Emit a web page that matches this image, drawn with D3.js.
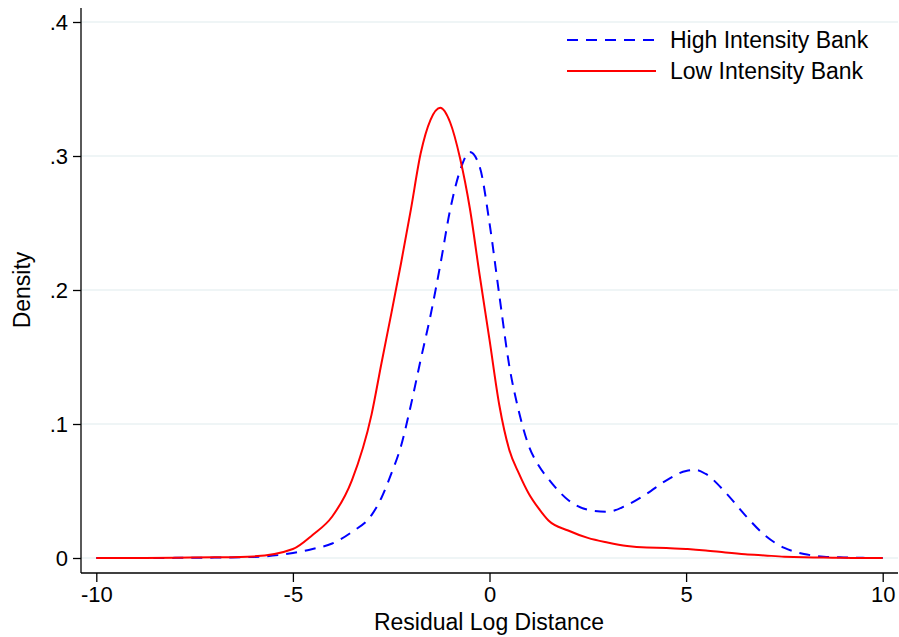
<!DOCTYPE html>
<html>
<head>
<meta charset="utf-8">
<script src="https://cdn.jsdelivr.net/npm/d3@7"></script>
<style>
  body { margin: 0; background: #fff; }
  svg { display: block; font-family: "Liberation Sans", Arial, sans-serif; }
</style>
</head>
<body>
<div id="chart"></div>
<script>
// Data (kernel density estimates)
const xGrid = [-10, -9, -8, -7, -6, -5, -4.5, -4, -3.5, -3, -2.75, -2.5, -2.25, -2, -1.75, -1.5,
  -1.25, -1, -0.75, -0.5, -0.25, 0, 0.25, 0.5, 0.75, 1, 1.25, 1.5, 2, 2.5, 3, 3.5, 4, 4.5, 5,
  5.25, 5.5, 6, 6.5, 7, 7.5, 8, 8.5, 9, 9.5, 10];
const highIntensity = [0, 0, 0.0001, 0.0003, 0.0008, 0.0037, 0.0067, 0.0108, 0.0194, 0.032, 0.0448,
  0.0627, 0.0836, 0.114, 0.148, 0.181, 0.219, 0.26, 0.289, 0.303, 0.292, 0.25, 0.196, 0.144,
  0.109, 0.0836, 0.069, 0.059, 0.0433, 0.036, 0.0345, 0.0396, 0.048, 0.058, 0.065, 0.0657, 0.0627,
  0.049, 0.032, 0.017, 0.0075, 0.003, 0.001, 0.0004, 0.0001, 0];
const lowIntensity = [0, 0, 0.0002, 0.0005, 0.0012, 0.0067, 0.0172, 0.031, 0.058, 0.107, 0.145,
  0.182, 0.22, 0.26, 0.302, 0.327, 0.336, 0.325, 0.2985, 0.261, 0.211, 0.163, 0.114, 0.081,
  0.063, 0.048, 0.037, 0.028, 0.0205, 0.015, 0.0116, 0.009, 0.0078, 0.0075, 0.0067, 0.0062, 0.0056,
  0.0041, 0.0028, 0.0019, 0.001, 0.0005, 0.0003, 0.0001, 0, 0];
const xTicks = [-10, -5, 0, 5, 10];
const yTicks = [0, 0.1, 0.2, 0.3, 0.4];
const seriesNames = ["High Intensity Bank", "Low Intensity Bank"];

const width = 899;
const height = 637;
const plot = { left: 81, right: 898, top: 8, bottom: 573 };

const svg = d3.select("#chart")
  .append("svg")
  .attr("width", width)
  .attr("height", height);

const xScale = d3.scaleLinear().domain([-10, 10]).range([96.3, 882.7]);
const yScale = d3.scaleLinear().domain([0, 0.4]).range([558, 22]);

// gridlines
svg.append("g")
  .selectAll("line")
  .data(yTicks)
  .join("line")
  .attr("x1", plot.left)
  .attr("x2", plot.right)
  .attr("y1", (d) => yScale(d))
  .attr("y2", (d) => yScale(d))
  .attr("stroke", "#eaf2f3")
  .attr("stroke-width", 1.5);

const fmtY = (d) => (d === 0 ? "0" : d3.format(".1f")(d).replace(/^0/, ""));
const fmtX = (d) => String(d); // plain hyphen, not unicode minus

const yAxis = svg.append("g")
  .attr("transform", `translate(${plot.left},0)`)
  .call(d3.axisLeft(yScale).tickValues(yTicks).tickFormat(fmtY).tickSize(8).tickPadding(5));
yAxis.select(".domain").remove();
yAxis.selectAll("text").attr("font-size", 22).attr("fill", "#000");
yAxis.selectAll("line").attr("stroke", "#000").attr("stroke-width", 1.3);

const xAxis = svg.append("g")
  .attr("transform", `translate(0,${plot.bottom})`)
  .call(d3.axisBottom(xScale).tickValues(xTicks).tickFormat(fmtX).tickSize(9).tickPadding(4));
xAxis.select(".domain").remove();
xAxis.selectAll("text").attr("font-size", 22).attr("fill", "#000");
xAxis.selectAll("line").attr("stroke", "#000").attr("stroke-width", 1.3);

// axis lines
svg.append("line")
  .attr("x1", plot.left).attr("x2", plot.left)
  .attr("y1", plot.top).attr("y2", plot.bottom)
  .attr("stroke", "#000").attr("stroke-width", 1.3);
svg.append("line")
  .attr("x1", plot.left).attr("x2", plot.right)
  .attr("y1", plot.bottom).attr("y2", plot.bottom)
  .attr("stroke", "#000").attr("stroke-width", 1.3);

// axis titles
svg.append("text")
  .attr("x", 489)
  .attr("y", 630)
  .attr("text-anchor", "middle")
  .attr("font-size", 23)
  .text("Residual Log Distance");
svg.append("text")
  .attr("transform", "translate(30,290) rotate(-90)")
  .attr("text-anchor", "middle")
  .attr("font-size", 23)
  .text("Density");

// curves
const line = d3.line()
  .x((d) => xScale(d.x))
  .y((d) => yScale(d.y))
  .curve(d3.curveMonotoneX);

const series = [
  { label: seriesNames[0], values: highIntensity, color: "#0000ff", dash: "11,8" },
  { label: seriesNames[1], values: lowIntensity, color: "#ff0000", dash: null },
];

svg.append("g")
  .selectAll("path")
  .data(series)
  .join("path")
  .attr("fill", "none")
  .attr("stroke", (d) => d.color)
  .attr("stroke-width", 2)
  .attr("stroke-dasharray", (d) => d.dash)
  .attr("d", (d) => line(d.values.map((v, i) => ({ x: xGrid[i], y: v }))));

// legend
const legend = svg.append("g");
series.forEach((s, i) => {
  const y = 40 + i * 31;
  legend.append("line")
    .attr("x1", 567).attr("x2", 656)
    .attr("y1", y).attr("y2", y)
    .attr("stroke", s.color)
    .attr("stroke-width", 2)
    .attr("stroke-dasharray", s.dash);
  legend.append("text")
    .attr("x", 670)
    .attr("y", y)
    .attr("dy", "0.35em")
    .attr("font-size", 23)
    .text(s.label);
});
</script>
</body>
</html>
